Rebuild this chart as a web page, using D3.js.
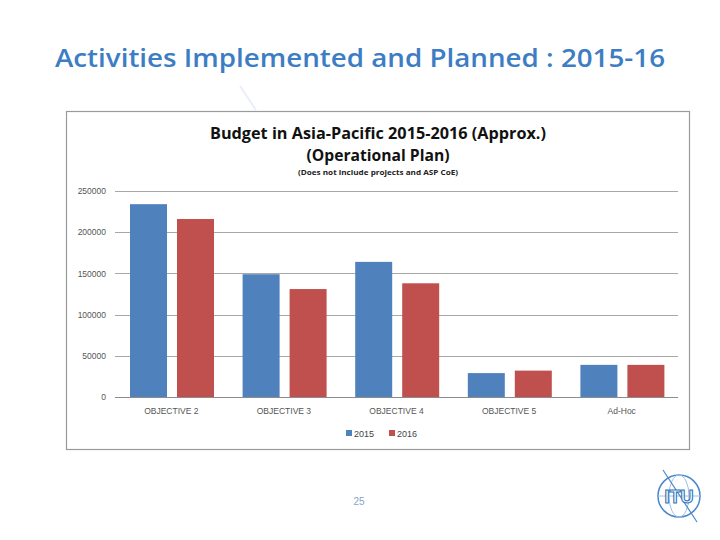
<!DOCTYPE html>
<html><head><meta charset="utf-8">
<script src="https://cdn.jsdelivr.net/npm/d3@7"></script>
<style>body{margin:0;background:#fff;}svg{display:block;}</style>
</head><body>
<script>
const categories = ["OBJECTIVE 2","OBJECTIVE 3","OBJECTIVE 4","OBJECTIVE 5","Ad-Hoc"];
const series = ["2015","2016"];
const values2015 = [234000,149000,164000,29000,39000];
const values2016 = [216000,131000,138000,32000,39000];
const yTicks = [0,50000,100000,150000,200000,250000];
const colors = ["#4F81BD","#C0504D"];

const svg = d3.select("body").append("svg").attr("width",720).attr("height",540);
svg.append("rect").attr("width",720).attr("height",540).attr("fill","#fff");

// page title
svg.append("text").attr("x",360).attr("y",67).attr("text-anchor","middle")
  .attr("font-family","Open Sans, sans-serif").attr("font-weight",600).attr("font-size",25).attr("fill","#3C7DC4")
  .attr("textLength",610).attr("lengthAdjust","spacingAndGlyphs")
  .text("Activities Implemented and Planned : 2015-16");

// faint decorative stroke
svg.append("line").attr("x1",240).attr("y1",86).attr("x2",256).attr("y2",110)
  .attr("stroke","#e8eff8").attr("stroke-width",2);

// chart frame
svg.append("rect").attr("x",66.5).attr("y",111.5).attr("width",623).attr("height",338)
  .attr("fill","#fff").attr("stroke","#9a9a9a").attr("stroke-width",1.2);

// chart titles
svg.append("text").attr("x",378).attr("y",139).attr("text-anchor","middle")
  .attr("font-family","Open Sans, sans-serif").attr("font-weight","bold").attr("font-size",15.5).attr("fill","#111")
  .attr("textLength",336).attr("lengthAdjust","spacingAndGlyphs")
  .text("Budget in Asia-Pacific 2015-2016 (Approx.)");
svg.append("text").attr("x",378).attr("y",161).attr("text-anchor","middle")
  .attr("font-family","Open Sans, sans-serif").attr("font-weight","bold").attr("font-size",15.5).attr("fill","#111")
  .attr("textLength",143).attr("lengthAdjust","spacingAndGlyphs")
  .text("(Operational Plan)");
svg.append("text").attr("x",378).attr("y",175).attr("text-anchor","middle")
  .attr("font-family","Open Sans, sans-serif").attr("font-weight","bold").attr("font-size",7).attr("fill","#222")
  .attr("textLength",160).attr("lengthAdjust","spacingAndGlyphs")
  .text("(Does not include projects and ASP CoE)");

const x0 = d3.scaleBand().domain(categories).range([115,678]).paddingInner(0).paddingOuter(0);
const x1 = d3.scaleBand().domain(series).range([15, 15+37*2+10]).paddingInner(10/47).paddingOuter(0);
const y = d3.scaleLinear().domain([0,250000]).range([397,191]);

// gridlines
svg.append("g").selectAll("line").data(yTicks).join("line")
  .attr("x1",115).attr("x2",678).attr("y1",d=>Math.round(y(d))+0.5).attr("y2",d=>Math.round(y(d))+0.5)
  .attr("stroke",d=>d===0?"#8c8c8c":"#a8a8a8").attr("stroke-width",1);

// y axis labels
const yAxis = d3.axisLeft(y).tickValues(yTicks).tickSize(0).tickPadding(0).tickFormat(d3.format("d"));
const ga = svg.append("g").attr("transform","translate(106,0)").call(yAxis);
ga.select(".domain").remove();
ga.selectAll("text").attr("font-family","Liberation Sans, Arial, sans-serif").attr("font-size",8.5).attr("fill","#555");

// bars
const data = categories.map((c,i)=>({c, vals:[{s:"2015",v:values2015[i]},{s:"2016",v:values2016[i]}]}));
const groups = svg.append("g").selectAll("g").data(data).join("g")
  .attr("transform",d=>`translate(${x0(d.c)},0)`);
groups.selectAll("rect").data(d=>d.vals).join("rect")
  .attr("x",d=>x1(d.s)).attr("width",x1.bandwidth())
  .attr("y",d=>y(d.v)).attr("height",d=>y(0)-y(d.v))
  .attr("fill",(d,i)=>colors[i]);

// x axis labels
const xAxis = d3.axisBottom(x0).tickSize(0).tickPadding(0);
const gx = svg.append("g").attr("transform","translate(0,414)").call(xAxis);
gx.select(".domain").remove();
gx.selectAll("text").attr("font-family","Liberation Sans, Arial, sans-serif").attr("font-size",8.5).attr("fill","#555").attr("dy",0);

// legend
const legend = svg.append("g").attr("transform","translate(346,429)");
series.forEach((s,i)=>{
  const g = legend.append("g").attr("transform",`translate(${i*43},0)`);
  g.append("rect").attr("width",6).attr("height",6).attr("y",1).attr("fill",colors[i]);
  g.append("text").attr("x",8).attr("y",8).attr("font-family","Liberation Sans, Arial, sans-serif")
    .attr("font-size",9).attr("fill","#444").text(s);
});

// page number
svg.append("text").attr("x",359).attr("y",505).attr("text-anchor","middle")
  .attr("font-family","Liberation Sans, Arial, sans-serif").attr("font-size",10).attr("fill","#8aa4c8").text("25");

// ITU logo (simplified)
const logo = svg.append("g").attr("transform","translate(679,496)");
logo.append("circle").attr("r",21).attr("fill","none").attr("stroke","#4a88c8").attr("stroke-width",1.5);
logo.append("ellipse").attr("rx",10).attr("ry",21).attr("fill","none").attr("stroke","#9cc0e4").attr("stroke-width",1);
logo.append("line").attr("x1",-21).attr("x2",21).attr("stroke","#9cc0e4");
logo.append("line").attr("x1",-16).attr("y1",-26).attr("x2",18).attr("y2",26).attr("stroke","#4a88c8").attr("stroke-width",1.2);
logo.append("text").attr("y",7).attr("text-anchor","middle").attr("font-family","Liberation Sans, Arial, sans-serif")
  .attr("font-weight","bold").attr("font-size",18).attr("fill","#fff").attr("stroke","#2f72b8").attr("stroke-width",1.1).text("ITU");
</script>
</body></html>
